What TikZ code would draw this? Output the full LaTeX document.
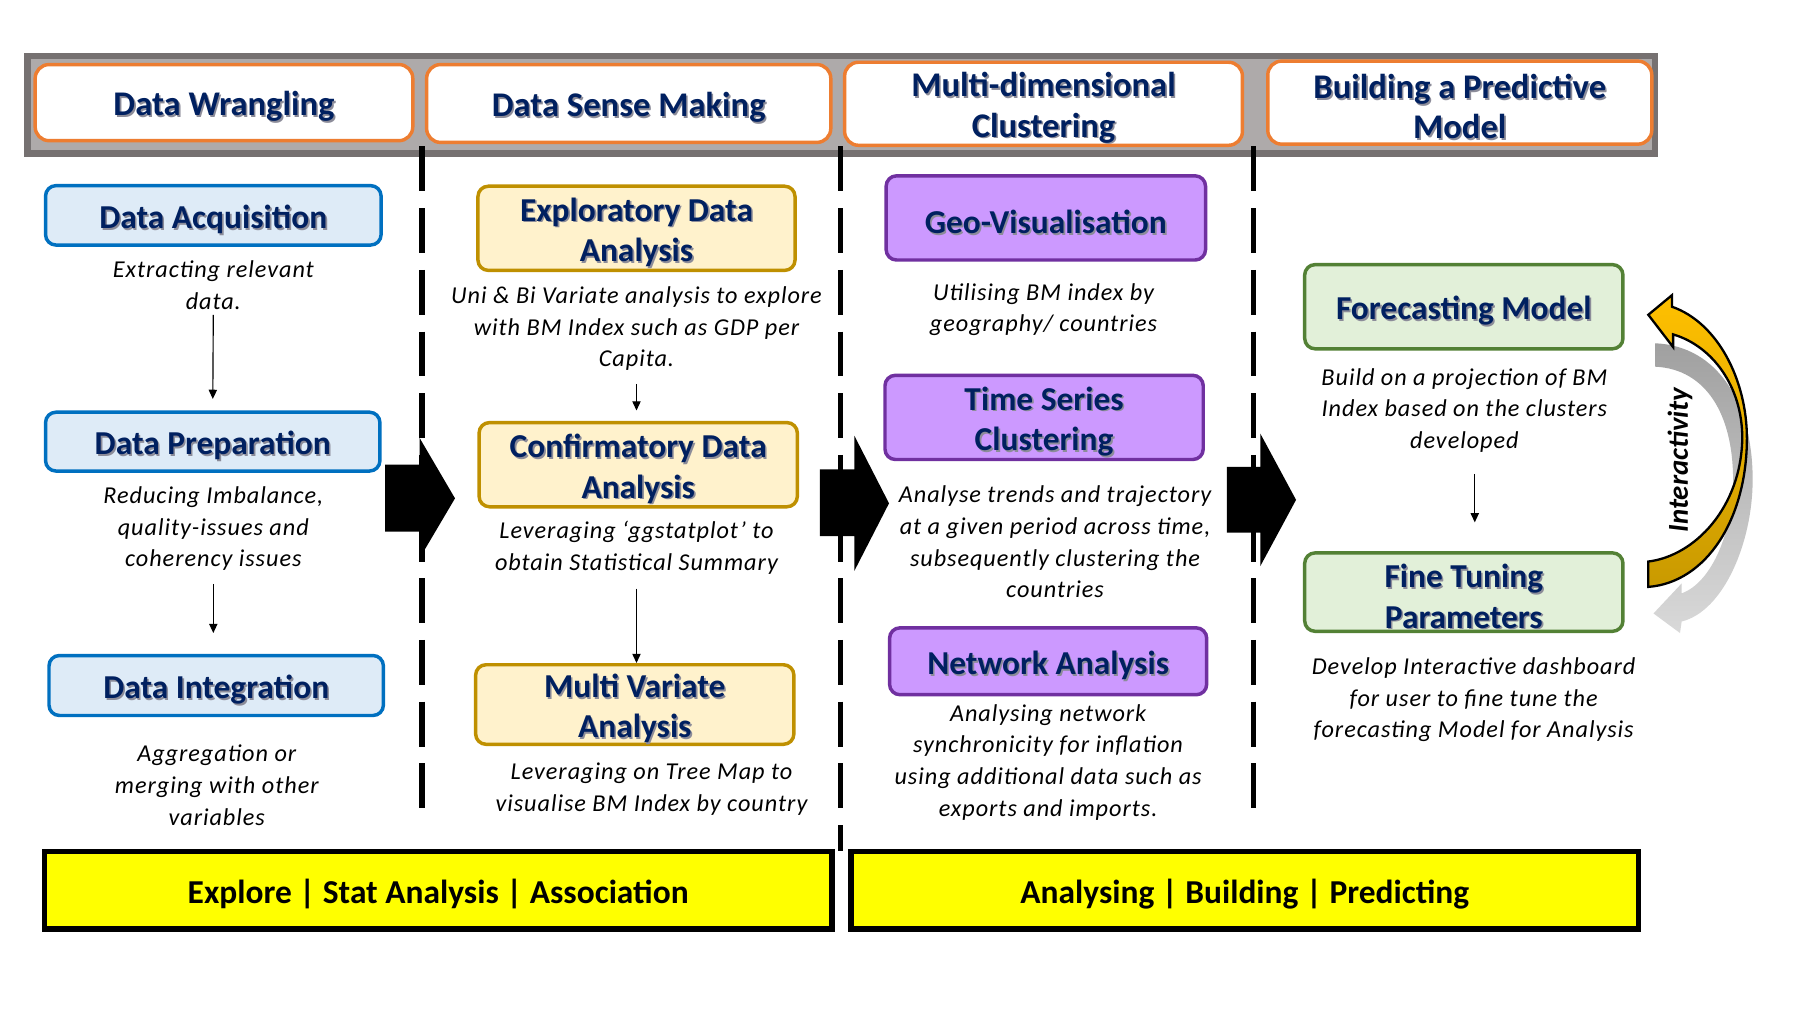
\documentclass[tikz,border=0pt]{standalone}
\usepackage{fontspec}
\setmainfont{Carlito}
\newfontfamily\descfont{Carlito}[LetterSpace=4]
\usetikzlibrary{arrows.meta}

\definecolor{navy}{HTML}{002060}
\definecolor{titleshadow}{HTML}{8C8C99}
\definecolor{barouter}{HTML}{767171}
\definecolor{barinner}{HTML}{AEAAAA}
\definecolor{hdrorange}{HTML}{ED7D31}
\definecolor{bluebd}{HTML}{0070C0}
\definecolor{bluefill}{HTML}{DEEBF7}
\definecolor{goldbd}{HTML}{BF9000}
\definecolor{goldfill}{HTML}{FFF2CC}
\definecolor{purplebd}{HTML}{7030A0}
\definecolor{purplefill}{HTML}{CC99FF}
\definecolor{greenbd}{HTML}{538135}
\definecolor{greenfill}{HTML}{E2F0D9}
\definecolor{bandyellow}{HTML}{FFFF00}
\definecolor{loopgold}{HTML}{FFC000}
\definecolor{loopdark}{HTML}{C99A00}
\definecolor{loopgrayA}{HTML}{A0A0A0}
\definecolor{loopgrayB}{HTML}{D9D9D9}

% title line with a soft drop shadow, set slightly low in its box
\newcommand\shd[1]{\leavevmode\raisebox{-1.8pt}[\height][\depth]{\rlap{\kern0.7pt\raisebox{-0.7pt}[0pt][0pt]{\textcolor{titleshadow}{#1}}}#1}}
% plain line set slightly low
\newcommand\low[1]{\leavevmode\raisebox{-1.5pt}[\height][\depth]{#1}}

% rounded box given by its corners (x1,y1) (x2,y2)
\newcommand\rbox[7]{\node[#1, minimum width={(#5-#3)*0.5pt}, minimum height={(#6-#4)*0.5pt}] (#2) at ({(#3+#5)/2},{(#4+#6)/2}) {#7};}

\tikzset{
  titlefont/.style={font=\fontsize{14.5}{17.5}\selectfont\bfseries, text=navy},
  hdrbox/.style={draw=hdrorange, fill=white, line width=1.5pt, rounded corners=6pt,
    align=center, inner sep=0pt, font=\fontsize{15}{17.5}\selectfont\bfseries, text=navy},
  stagebox/.style={line width=1.5pt, rounded corners=4.5pt, align=center, inner sep=0pt, titlefont},
  bluebox/.style={stagebox, draw=bluebd, fill=bluefill},
  goldbox/.style={stagebox, draw=goldbd, fill=goldfill},
  purplebox/.style={stagebox, draw=purplebd, fill=purplefill},
  greenbox/.style={stagebox, draw=greenbd, fill=greenfill},
  desc/.style={align=center, inner sep=0pt, font=\descfont\itshape\fontsize{10.5}{13.75}\selectfont},
  band/.style={draw=black, fill=bandyellow, line width=2.5pt, inner sep=0pt,
    font=\fontsize{14.5}{17}\selectfont\bfseries},
  sepline/.style={line width=2.4pt, dash pattern=on 19.5pt off 7.25pt},
  arr/.style={line width=0.5pt, -{Triangle[length=4pt,width=3.6pt]}},
  blockarrow/.style={fill=black, draw=none},
}

\begin{document}
\begin{tikzpicture}[x=0.5pt, y=-0.5pt]
\useasboundingbox[fill=white] (0,0) rectangle (1568,883);

% header strip
\rbox{draw=barouter, fill=barinner, line width=2.75pt}{bar}{23.75}{48.45}{1435.25}{133.15}{}
\rbox{hdrbox}{h1}{30.5}{56}{358}{122}{\shd{Data Wrangling}}
\rbox{hdrbox}{h2}{370}{56}{720.5}{123.5}{\shd{Data Sense Making}}
\rbox{hdrbox}{h3}{732.5}{54}{1077.5}{126}{\shd{Multi-dimensional}\\\shd{Clustering}}
\rbox{hdrbox}{h4}{1099.5}{53}{1432.5}{125}{\shd{Building a Predictive}\\\shd{Model}}

% column separators
\draw[sepline] (366,127) -- (366,706);
\draw[sepline] (729,127) -- (729,738);
\draw[sepline] (1087,127) -- (1087,706);

% column 1: data wrangling
\rbox{bluebox}{acq}{39.5}{161}{330.5}{212.5}{\shd{Data Acquisition}}
\node[desc] (acqtxt) at (185,247.5) {Extracting relevant\\data.};
\rbox{bluebox}{prep}{39.5}{357.5}{329.5}{408.5}{\shd{Data Preparation}}
\node[desc] (preptxt) at (185,458.5) {Reducing Imbalance,\\quality-issues and\\coherency issues};
\rbox{bluebox}{integ}{42.5}{568.5}{332.5}{620.5}{\shd{Data Integration}}
\node[desc] (integtxt) at (188,681) {Aggregation or\\merging with other\\variables};

% column 2: data sense making
\rbox{goldbox}{eda}{414.5}{161.5}{689.5}{234.5}{\shd{Exploratory Data}\\\shd{Analysis}}
\node[desc] (edatxt) at (552,285) {Uni \& Bi Variate analysis to explore\\with BM Index such as GDP per\\Capita.};
\rbox{goldbox}{cda}{415.5}{366.5}{691.5}{439.5}{\shd{Confirmatory Data}\\\shd{Analysis}}
\node[desc] (cdatxt) at (552,475) {Leveraging ‘ggstatplot’ to\\obtain Statistical Summary};
\rbox{goldbox}{mva}{412.5}{576.5}{688.5}{645.5}{\shd{Multi Variate}\\\shd{Analysis}}
\node[desc] (mvatxt) at (565,684.5) {Leveraging on Tree Map to\\visualise BM Index by country};

% column 3: clustering
\rbox{purplebox}{geo}{768.5}{152.5}{1045.5}{225.5}{\shd{Geo-Visualisation}}
\node[desc] (geotxt) at (905,268.5) {Utilising BM index by\\geography/ countries};
\rbox{purplebox}{tsc}{767.5}{325.5}{1043.5}{398.5}{\shd{Time Series}\\\shd{Clustering}}
\node[desc] (tsctxt) at (915,470) {Analyse trends and trajectory\\at a given period across time,\\subsequently clustering the\\countries};
\rbox{purplebox}{net}{771.5}{544.5}{1046.5}{602.5}{\shd{Network Analysis}}
\node[desc] (nettxt) at (909,661) {Analysing network\\synchronicity for inflation\\using additional data such as\\exports and imports.};

% column 4: predictive model
\rbox{greenbox}{fcm}{1131.5}{229.5}{1407.5}{302.5}{\shd{Forecasting Model}}
\node[desc] (fcmtxt) at (1270,356) {Build on a projection of BM\\Index based on the clusters\\developed};
\rbox{greenbox}{ftp}{1131.5}{479.5}{1407.5}{547.5}{\shd{Fine Tuning}\\\shd{Parameters}}
\node[desc] (ftptxt) at (1278,607) {Develop Interactive dashboard\\for user to fine tune the\\forecasting Model for Analysis};

% flow inside the columns
\draw[arr, shorten <=2pt, shorten >=5pt] (acqtxt.south) -- (prep.north);
\draw[arr, shorten <=5.5pt, shorten >=9pt] (preptxt.south) -- (preptxt.south |- integ.north);
\draw[arr, shorten <=5.5pt, shorten >=4.5pt] (edatxt.south) -- (edatxt.south |- cda.north);
\draw[arr, shorten <=6pt] (cdatxt.south) -- (cdatxt.south |- mva.north);
\draw[arr, shorten <=9pt, shorten >=12.5pt] ([xshift=4.5pt]fcmtxt.south) -- ([xshift=4.5pt]fcmtxt.south |- ftp.north);

% block arrows between the stages
\fill[blockarrow] (334,403) -- (364,403) -- (364,380) -- (394.6,432.2) -- (364,484) -- (364,461) -- (334,461) -- cycle;
\fill[blockarrow] (711,407) -- (741,407) -- (741,378) -- (771,436.5) -- (741,495) -- (741,465) -- (711,465) -- cycle;
\fill[blockarrow] (1064,405) -- (1093,405) -- (1093,376) -- (1124,433.5) -- (1093,491) -- (1093,462) -- (1064,462) -- cycle;

% interactivity loop
\shade[top color=loopgrayA, bottom color=loopgrayB]
  (1435.3,297.7) .. controls (1490,300) and (1520,350) .. (1520,416)
  .. controls (1520,470) and (1495,530) .. (1458.4,539) -- (1457,549) -- (1434,532)
  -- (1458.4,506) -- (1458.4,514.6) .. controls (1485,505) and (1503,460) .. (1503,416)
  .. controls (1503,360) and (1480,320) .. (1435.3,318) -- cycle;
\shade[draw=black, line width=1pt, top color=loopgold, middle color=loopgold, bottom color=loopdark]
  (1429.5,273) -- (1450,256) -- (1450,266) .. controls (1490,280) and (1515,330) .. (1515,380)
  .. controls (1515,450) and (1480,505) .. (1429.5,509) -- (1429.5,487)
  .. controls (1470,482) and (1510,440) .. (1511,380)
  .. controls (1511,335) and (1485,300) .. (1451,290) -- (1451,301) -- cycle;
\node[rotate=90, inner sep=0pt, font=\fontsize{12.5}{15}\selectfont\bfseries\itshape] (inter) at (1457,399) {Interactivity};

% summary bands
\rbox{band}{band1}{38.5}{738.5}{721.5}{805.5}{\low{Explore | Stat Analysis | Association}}
\rbox{band}{band2}{738}{738.5}{1421}{805.5}{\low{Analysing | Building | Predicting}}
\end{tikzpicture}
\end{document}
